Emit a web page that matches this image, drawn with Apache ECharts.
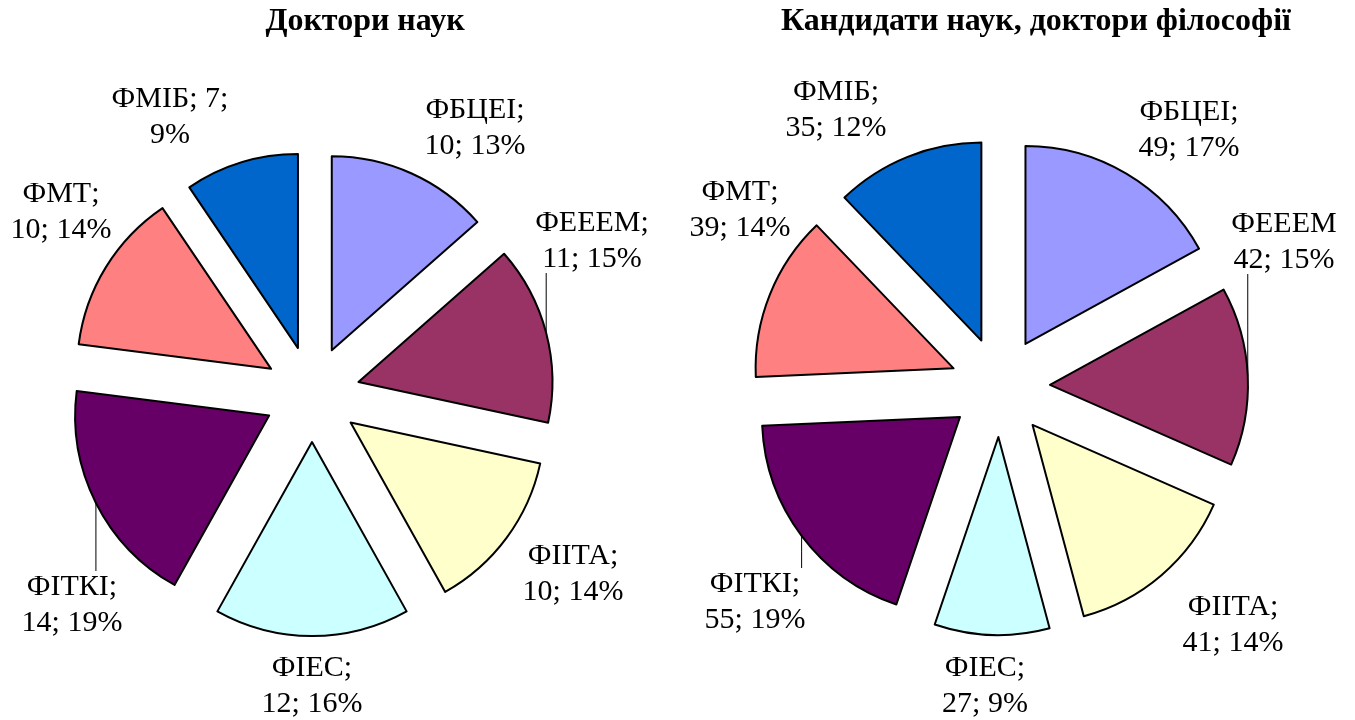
<!DOCTYPE html>
<html>
<head>
<meta charset="utf-8">
<script src="https://cdn.jsdelivr.net/npm/echarts@6/dist/echarts.min.js"></script>
<style>
  html, body { margin: 0; padding: 0; background: #fff; }
  #chart { width: 1355px; height: 720px; }
</style>
</head>
<body>
<div id="chart"></div>
<script>
// факультети, за годинниковою стрілкою від 12 години
const faculties = ['ФБЦЕІ', 'ФЕЕЕМ', 'ФІІТА', 'ФІЕС', 'ФІТКІ', 'ФМТ', 'ФМІБ'];

// Доктори наук
const doctorsValues = [10, 11, 10, 12, 14, 10, 7];
const doctorsPercents = [13, 15, 14, 16, 19, 14, 9];

// Кандидати наук, доктори філософії
const candidatesValues = [49, 42, 41, 27, 55, 39, 35];
const candidatesPercents = [17, 15, 14, 9, 19, 14, 12];

const colors = ['#9999FF', '#993366', '#FFFFCC', '#CCFFFF', '#660066', '#FF8080', '#0066CC'];
const FONT = '"Liberation Serif", "Times New Roman", serif';
const LINE_H = 36;

// центри блоків підписів
const leftLabelPos = [[475, 128], [592, 241], [573, 574], [312, 686], [72, 605], [61, 212], [170, 117]];
const rightLabelPos = [[1189, 130], [1284, 242], [1233, 625], [985, 686], [755, 602], [740, 210], [836, 110]];

// кути секторів так само, як їх рахує pie (startAngle 90, за годинниковою)
const sliceDirs = (values) => {
  const total = values.reduce((a, b) => a + b, 0);
  let cur = -Math.PI / 2;
  return values.map(v => {
    const a = v / total * Math.PI * 2;
    const mid = cur + a / 2;
    cur += a;
    return [Math.cos(mid), Math.sin(mid)];
  });
};

const makePie = (values, percents, center, radius, offset, labelPos, opts) => {
  const dirs = sliceDirs(values);
  // довжини лінії-виноски, щоб підпис став у потрібне місце
  const guide = dirs.map((d, i) => {
    const ax = center[0] + radius * d[0], ay = center[1] + radius * d[1];
    const tx = labelPos[i][0] - offset * d[0], ty = labelPos[i][1] - offset * d[1];
    const len = (ty - ay) / d[1];
    const x2 = ax + d[0] * len;
    const len2 = (d[0] < 0 ? -1 : 1) * (tx - x2);
    const edgeY = ty + (ty < ay ? LINE_H - 4 : -LINE_H + 2);
    return { len, len2, points: [[ax, ay], [ax, (ay + edgeY) / 2], [ax, edgeY]] };
  });
  return {
    type: 'pie',
    center: center,
    radius: radius,
    startAngle: 90,
    clockwise: true,
    selectedMode: 'multiple',
    selectedOffset: offset,
    avoidLabelOverlap: false,
    itemStyle: { borderColor: '#000', borderWidth: 2 },
    select: { itemStyle: { borderColor: '#000', borderWidth: 2 } },
    emphasis: { disabled: true },
    label: {
      show: true,
      position: 'outside',
      alignTo: 'none',
      distanceToLabelLine: 0,
      color: '#000',
      fontFamily: FONT,
      fontSize: 30,
      lineHeight: LINE_H,
      align: 'center',
      formatter: (p) => {
        const i = p.dataIndex;
        const name = faculties[i] + (opts.noSemi === i ? '' : ';');
        if (opts.inlineValue === i) {
          return name + ' ' + values[i] + ';\n' + percents[i] + '%';
        }
        return name + '\n' + values[i] + '; ' + percents[i] + '%';
      }
    },
    labelLayout: (params) => {
      const i = params.dataIndex;
      const res = { align: 'center', verticalAlign: 'middle' };
      if (opts.lines.indexOf(i) >= 0) res.labelLinePoints = guide[i].points;
      return res;
    },
    data: values.map((v, i) => ({
      name: faculties[i],
      value: v,
      selected: true,
      itemStyle: { color: colors[i] },
      labelLine: {
        show: opts.lines.indexOf(i) >= 0,
        length: guide[i].len,
        length2: guide[i].len2,
        minTurnAngle: 0,
        maxSurfaceAngle: 180,
        lineStyle: { color: '#000', width: 1 }
      }
    }))
  };
};

const option = {
  animation: false,
  backgroundColor: '#fff',
  title: [
    {
      text: 'Доктори наук',
      left: 365,
      top: 6,
      textAlign: 'center',
      padding: 0,
      textStyle: { fontFamily: FONT, fontWeight: 'bold', fontSize: 32, color: '#000' }
    },
    {
      text: 'Кандидати наук, доктори філософії',
      left: 1036,
      top: 6,
      textAlign: 'center',
      padding: 0,
      textStyle: { fontFamily: FONT, fontWeight: 'bold', fontSize: 32, color: '#000' }
    }
  ],
  series: [
    makePie(doctorsValues, doctorsPercents, [312, 394], 194, 48, leftLabelPos,
      { inlineValue: 6, noSemi: -1, lines: [1, 4] }),
    makePie(candidatesValues, candidatesPercents, [1000, 387], 198, 50, rightLabelPos,
      { inlineValue: -1, noSemi: 1, lines: [1, 4] })
  ]
};

const myChart = echarts.init(document.getElementById('chart'));
myChart.setOption(option);
</script>
</body>
</html>
